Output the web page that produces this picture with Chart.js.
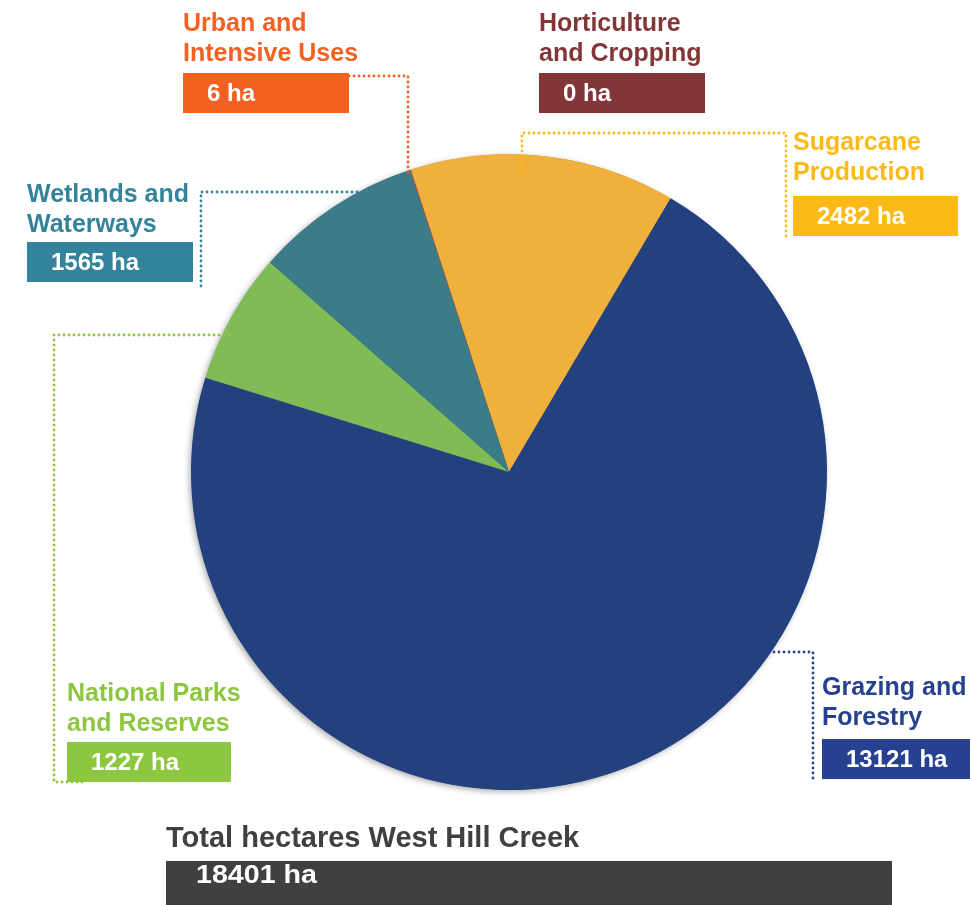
<!DOCTYPE html>
<html>
<head>
<meta charset="utf-8">
<title>Land use West Hill Creek</title>
<script src="https://cdn.jsdelivr.net/npm/chart.js@4.4.1/dist/chart.umd.min.js"></script>
<style>
  html, body { margin: 0; padding: 0; background: #fff; }
  #wrap { width: 970px; height: 905px; }
</style>
</head>
<body>
<div id="wrap"><canvas id="landUseChart" width="970" height="905"></canvas></div>
<script>
// data, in pie order (clockwise from the top)
const categories = [
  'Horticulture and Cropping',
  'Sugarcane Production',
  'Grazing and Forestry',
  'National Parks and Reserves',
  'Wetlands and Waterways',
  'Urban and Intensive Uses'
];
const hectares = [0, 2482, 13121, 1227, 1565, 6];
const sliceColours = ['#843538', '#F0B03C', '#23417F', '#80BC55', '#3C7B88', '#F26122'];
const labelColours = ['#843538', '#FBBA17', '#25418F', '#8DC63F', '#33849A', '#F26122'];
const totalTitle = 'Total hectares West Hill Creek';
const unit = 'ha';

// where each label sits and how its dotted leader runs to the pie
// leader: fixed points, then a last leg ('v' = vertical, 'h' = horizontal) that stops at the pie edge + overshoot
const labelLayout = [
  { x: 539, lines: ['Horticulture', 'and Cropping'], y: 24, box: [539, 73, 166, 40], leader: null },
  { x: 793, lines: ['Sugarcane', 'Production'], y: 143, box: [793, 196, 165, 40],
    leader: { pts: [[786, 236], [786, 133], [522, 133]], leg: 'v', over: 20 } },
  { x: 822, lines: ['Grazing and', 'Forestry'], y: 688, box: [822, 739, 148, 40],
    leader: { pts: [[813, 778], [813, 652]], leg: 'h', over: 4 } },
  { x: 67, lines: ['National Parks', 'and Reserves'], y: 694, box: [67, 742, 164, 40],
    leader: { pts: [[82, 782], [54, 782], [54, 335]], leg: 'h', over: 11 } },
  { x: 27, lines: ['Wetlands and', 'Waterways'], y: 195, box: [27, 242, 166, 40],
    leader: { pts: [[201, 286], [201, 192]], leg: 'h', over: 18 } },
  { x: 183, lines: ['Urban and', 'Intensive Uses'], y: 24, box: [183, 73, 166, 40],
    leader: { pts: [[349, 76], [408, 76]], leg: 'v', over: 2 } }
];

const labelFont = 'bold 25px "Liberation Sans", Arial, sans-serif';
const valueFont = 'bold 24px "Liberation Sans", Arial, sans-serif';

// soft shadow under the whole pie
const pieShadow = {
  id: 'pieShadow',
  beforeDatasetsDraw(chart) {
    const arc = chart.getDatasetMeta(0).data[0];
    if (!arc) return;
    const ctx = chart.ctx;
    ctx.save();
    ctx.shadowColor = 'rgba(0,0,0,0.35)';
    ctx.shadowBlur = 6;
    ctx.shadowOffsetX = -2;
    ctx.shadowOffsetY = 2;
    ctx.fillStyle = '#23417F';
    ctx.beginPath();
    ctx.arc(arc.x, arc.y, arc.outerRadius - 0.5, 0, Math.PI * 2);
    ctx.fill();
    ctx.restore();
  }
};

const calloutLabels = {
  id: 'calloutLabels',
  afterDatasetsDraw(chart) {
    const ctx = chart.ctx;
    const arc = chart.getDatasetMeta(0).data[0];
    const cx = arc.x, cy = arc.y, r = arc.outerRadius;

    labelLayout.forEach((lay, i) => {
      const col = labelColours[i];

      // leader line
      if (lay.leader) {
        const pts = lay.leader.pts.slice();
        const last = pts[pts.length - 1];
        let end;
        if (lay.leader.leg === 'v') {
          const dy = Math.sqrt(Math.max(r * r - (last[0] - cx) ** 2, 0));
          const edge = last[1] < cy ? cy - dy : cy + dy;
          end = [last[0], edge + (last[1] < cy ? lay.leader.over : -lay.leader.over)];
        } else {
          const dx = Math.sqrt(Math.max(r * r - (last[1] - cy) ** 2, 0));
          const edge = last[0] < cx ? cx - dx : cx + dx;
          end = [edge + (last[0] < cx ? lay.leader.over : -lay.leader.over), last[1]];
        }
        pts.push(end);
        ctx.save();
        ctx.strokeStyle = col;
        ctx.lineWidth = 2.8;
        ctx.lineCap = 'round';
        ctx.setLineDash([0, 5]);
        ctx.beginPath();
        ctx.moveTo(pts[0][0], pts[0][1]);
        for (let k = 1; k < pts.length; k++) ctx.lineTo(pts[k][0], pts[k][1]);
        ctx.stroke();
        ctx.restore();
      }

      // name
      ctx.save();
      ctx.fillStyle = col;
      ctx.font = labelFont;
      ctx.textBaseline = 'middle';
      ctx.textAlign = 'left';
      lay.lines.forEach((t, k) => ctx.fillText(t, lay.x, lay.y + k * 30));

      // value box
      const [bx, by, bw, bh] = lay.box;
      ctx.fillRect(bx, by, bw, bh);
      ctx.fillStyle = '#fff';
      ctx.font = valueFont;
      ctx.fillText(hectares[i] + ' ' + unit, bx + 24, by + bh / 2 + 1);
      ctx.restore();
    });

    // total
    const total = hectares.reduce((a, b) => a + b, 0);
    ctx.save();
    ctx.fillStyle = '#404040';
    ctx.font = 'bold 29px "Liberation Sans", Arial, sans-serif';
    ctx.textBaseline = 'middle';
    ctx.fillText(totalTitle, 166, 839);
    ctx.fillRect(166, 861, 726, 44);
    ctx.fillStyle = '#fff';
    ctx.font = 'bold 25px "Liberation Sans", Arial, sans-serif';
    ctx.textBaseline = 'alphabetic';
    const txt = total + ' ' + unit;
    const w = ctx.measureText(txt).width;
    ctx.translate(196, 883);
    ctx.scale(121 / w, 1);
    ctx.fillText(txt, 0, 0);
    ctx.restore();
  }
};

new Chart(document.getElementById('landUseChart'), {
  type: 'pie',
  data: {
    labels: categories,
    datasets: [{
      data: hectares,
      backgroundColor: sliceColours,
      borderColor: sliceColours,
      borderWidth: 0
    }]
  },
  options: {
    responsive: false,
    devicePixelRatio: 1,
    animation: false,
    rotation: -18,
    layout: { padding: { left: 191, right: 143, top: 154, bottom: 115 } },
    plugins: {
      legend: { display: false },
      tooltip: { enabled: false }
    },
    events: []
  },
  plugins: [pieShadow, calloutLabels]
});
</script>
</body>
</html>
